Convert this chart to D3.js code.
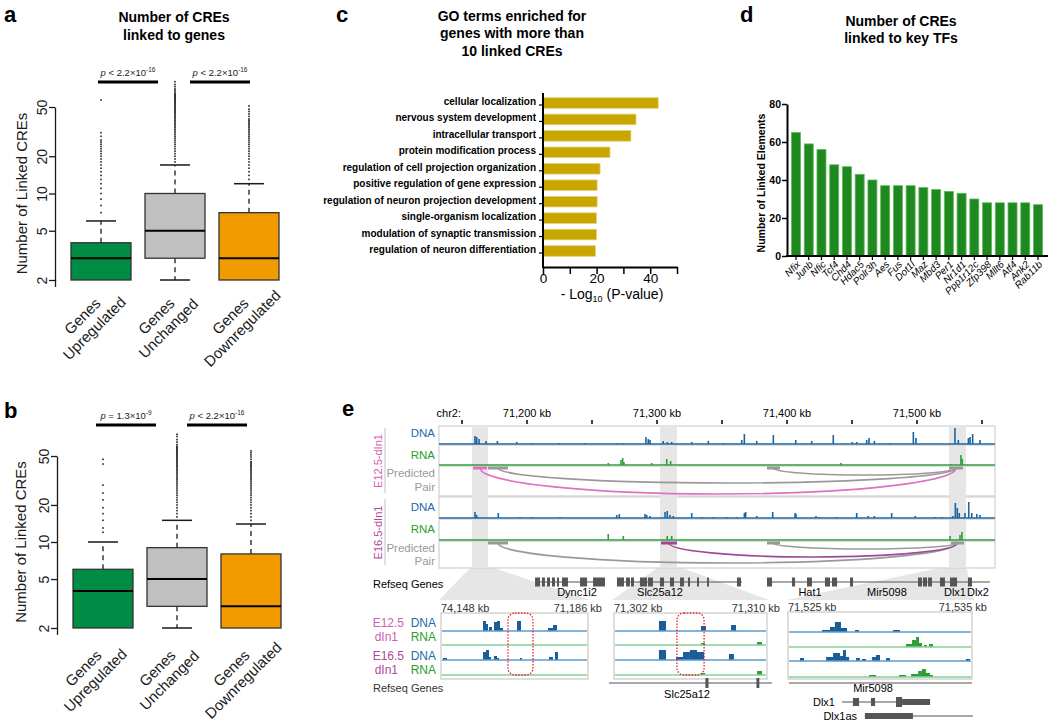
<!DOCTYPE html>
<html><head><meta charset="utf-8">
<script src="https://cdn.jsdelivr.net/npm/d3@7/dist/d3.min.js"></script>
<style>html,body{margin:0;padding:0;background:#fff;} text{font-family:Arial,"Liberation Sans",Helvetica,sans-serif;}</style>
</head><body>
<script>
// ===================== DATA =====================
// Panels a & b (box plots, log scale)
const boxCategories = [["Genes","Upregulated"],["Genes","Unchanged"],["Genes","Downregulated"]];
const boxColors = ["#008C44","#C0C0C0","#F29B00"];
const yTicksBox = [2,5,10,20,50];
const statsA = [
  {lo:2,q1:2,med:3,q3:4,hi:6},
  {lo:2,q1:3,med:5,q3:10,hi:17},
  {lo:2,q1:2,med:3,q3:7,hi:12}];
const outliersA = [
  [7,8,9,10,11,12,13,14,15,16,17,18,19,20,21,22,23,24,25,26,27,29,31,57],
  [18,19,20,21,22,23,24,25,26,27,28,29,30,31,32,33,34,35,36,37,38,39,40,41,42,43,44,45,46,47,48,49,50,51,52,53,54,55,56,57,58,59,60,61,62,63,64,66,68,70,73,76,80],
  [13,14,15,16,17,18,19,20,21,22,23,24,25,26,27,28,29,30,31,32,33,34,35,36,37,38,39,40,42,44,46,48,51]];
const pLabelsA = [{op:"<",mant:"2.2",exp:"-16"},{op:"<",mant:"2.2",exp:"-16"}];
const statsB = [
  {lo:2,q1:2,med:4,q3:6,hi:10},
  {lo:2,q1:3,med:5,q3:9,hi:15},
  {lo:2,q1:2,med:3,q3:8,hi:14}];
const outliersB = [
  [12,13,15,17,19,22,25,29,43,47],
  [16,17,18,19,20,21,22,23,24,25,26,27,28,29,30,31,32,33,34,35,36,37,38,39,40,41,42,43,44,45,46,47,48,49,50,51,52,53,54,55,56,57,58,59,60,62,65,68,72,75],
  [15,16,17,18,19,20,21,22,23,24,25,26,27,28,29,30,31,32,33,34,35,36,37,38,39,40,41,42,43,44,45,47,49,51,53,55]];
const pLabelsB = [{op:"=",mant:"1.3",exp:"-9"},{op:"<",mant:"2.2",exp:"-16"}];

// Panel c (GO terms)
const goTerms = ["cellular localization","nervous system development","intracellular transport","protein modification process","regulation of cell projection organization","positive regulation of gene expression","regulation of neuron projection development","single-organism localization","modulation of synaptic transmission","regulation of neuron differentiation"];
const goValues = [43,34.7,32.8,25,21.3,20.2,20.2,20,20,19.6];
const goTicks = [0,10,20,30,40,50];

// Panel d (key TFs)
const tfNames = ["Nfix","Junb","Nfic","Tcf4","Chd4","Hdac5","Polr3h","Aes","Fus","Dot1l","Maz","Mbd3","Per1","Nr1d1","Ppp1r12c","Zfp398","Mllt6","Atf4","Ank2","Rab11b"];
const tfValues = [65,59,56,48,47,43,40,37,37,37,36,35,34,33,30,28,28,28,28,27];
const tfTicks = [0,20,40,60,80];

// Panel e (genome browser, kb)
const rulerTicks = [71150,71200,71250,71300,71350,71400,71450,71500,71550];
const rulerLabels = [71200,71300,71400,71500];
const highlightsKb = [[71157.7,71170],[71302.3,71315.4],[71524.6,71537.7]];
const dnaE12 = [[71160.0,8],[71161.3,7],[71163.1,5],[71168.5,3],[71177.2,3],[71192.1,2],[71203.6,1],[71224.8,1],[71244.6,1],[71269.5,1],[71273.6,1],[71291.5,7],[71293.3,5],[71294.6,4],[71304.8,3],[71307.9,2],[71311.3,2],[71326.7,2],[71339.5,3],[71351.0,1],[71365.2,4],[71367.2,10],[71376.7,3],[71389.5,9],[71406.7,4],[71419.0,3],[71435.6,9],[71450.2,2],[71453.6,2],[71461.3,4],[71463.1,6],[71467.2,3],[71479.2,1],[71497.2,12],[71499.2,6],[71529.2,16],[71531.8,4],[71539.5,6],[71540.8,7],[71542.8,10],[71548.5,4]];
const dnaE16 = [[71160.0,6],[71161.3,3],[71177.9,5],[71194.6,1],[71203.6,1],[71225.4,1],[71269.0,3],[71271.0,4],[71290.8,4],[71292.1,3],[71294.6,2],[71306.2,6],[71307.9,7],[71310.0,3],[71312.5,2],[71326.7,5],[71334.4,1],[71343.3,1],[71353.6,1],[71361.3,1],[71367.2,5],[71368.2,6],[71376.7,2],[71389.0,6],[71406.2,5],[71406.9,4],[71422.3,2],[71424.8,1],[71438.2,1],[71453.6,5],[71462.5,2],[71467.2,2],[71480.5,5],[71498.7,2],[71513.8,1],[71519.0,1],[71527.5,2],[71529.5,15],[71531.0,10],[71532.5,5],[71536.9,5],[71539.8,16],[71542.1,5],[71546.0,4],[71548.5,3]];
const rnaE12 = [[71262.5,2],[71272.3,5],[71273.6,7],[71274.6,3],[71295.9,2],[71307.5,6],[71310.5,4],[71441.5,2],[71525.9,1],[71533.8,10],[71534.8,6]];
const rnaE16 = [[71262.5,6],[71274.1,4],[71307.9,4],[71311.3,4],[71525.4,4],[71533.1,5],[71534.6,8]];
const anchorsE12 = [[71158.5,71169.2,"pink"],[71170,71185.4,"gray"],[71384.6,71394.6,"gray"],[71524.6,71535.4,"gray"]];
const linksE12 = [[71163.8,71530,"pink",26],[71177.7,71530,"gray",15],[71389.2,71530,"gray",7]];
const anchorsE16 = [[71170,71185.4,"gray"],[71303.1,71315.4,"purple"],[71384.6,71394.6,"gray"],[71526.2,71536.2,"gray"]];
const linksE16 = [[71177.7,71530.8,"gray",20],[71309.2,71530.8,"purple",14],[71389.2,71530.8,"gray",6]];
const refGenes = [
  {start:71206.2,end:71260.0,exons:[[71206.2,71210.0],[71211.5,71213.8],[71215.4,71217.7],[71219.2,71221.5],[71223.1,71224.6],[71226.9,71231.5],[71240.8,71246.2],[71250.8,71260.0]]},
  {start:71269.2,end:71365.4,exons:[[71269.2,71274.6],[71276.2,71279.2],[71280,71282.3],[71286.9,71292.3],[71293.1,71296.9],[71302.3,71305.4],[71310,71313.1],[71317.7,71320.8],[71323.8,71325.4],[71330.8,71332.3],[71338.5,71340],[71361.5,71364.6]]},
  {start:71384.6,end:71556.2,exons:[[71384.6,71388.5],[71403.8,71406.2],[71415.4,71419.2],[71429.2,71433.1],[71434.6,71438.5],[71448.5,71450.8],[71500.8,71503.8],[71504.6,71507.7],[71508.5,71511.5],[71517.7,71521.5],[71525.4,71530.8],[71539.2,71542.3]]}];
const refGeneLabels = [["Dync1i2",71238.5],["Slc25a12",71302.3],["Hat1",71417.7],["Mir5098",71476.9],["Dlx1",71529.2],["Dlx2",71546.9]];
// Insets: [startKb,endKb,height]
const inset1Domain = [71148,71186];
const inset1DNA12 = [[71158.86,71159.63,10],[71159.63,71160.15,7],[71160.41,71161.18,4],[71161.7,71162.48,9],[71162.48,71163.25,10],[71163.25,71164.03,3],[71167.65,71168.68,10],[71175.66,71176.95,3],[71176.95,71177.99,6]];
const inset1DNA16 = [[71148.52,71149.55,2],[71158.86,71159.63,8],[71159.63,71160.41,10],[71160.41,71160.93,3],[71161.7,71162.48,4],[71162.48,71162.99,2],[71168.42,71168.94,2],[71175.92,71176.95,3],[71177.47,71178.24,8]];
const inset1Box = [71165.32,71171.78];
const inset2Domain = [71302,71310];
const inset2DNA12 = [[71304.35,71304.72,10],[71306.55,71306.81,5],[71308.12,71308.38,6]];
const inset2RNA12 = [[71306.55,71306.76,2],[71309.48,71309.74,3]];
const inset2DNA16 = [[71304.35,71304.72,10],[71305.24,71305.61,3],[71305.61,71305.97,8],[71305.97,71306.34,10],[71306.34,71306.71,8],[71308.01,71308.27,6]];
const inset2RNA16 = [[71306.55,71306.76,2],[71309.48,71309.74,4]];
const inset2Box = [71305.29,71306.71];
const inset2Gene = {start:71301.74,end:71310.26,exons:[[71306.78,71306.94],[71309.45,71309.6]]};
const inset3Domain = [71525,71535];
const inset3DNA12 = [[71526.85,71527.28,2],[71527.28,71527.55,5],[71527.55,71527.88,10],[71527.88,71528.21,4],[71528.64,71528.86,2],[71530.71,71531.09,2]];
const inset3RNA12 = [[71531.41,71531.74,3],[71531.74,71531.96,7],[71531.96,71532.12,10],[71532.12,71532.28,4],[71532.39,71532.55,2],[71532.66,71532.88,3]];
const inset3DNA16 = [[71525.65,71525.87,3],[71527.07,71527.45,4],[71527.45,71527.83,8],[71527.83,71527.99,5],[71527.99,71528.15,11],[71528.15,71528.32,4],[71528.7,71528.91,3],[71529.02,71529.24,2],[71529.57,71529.78,4],[71529.78,71530.0,6],[71530.33,71530.54,3],[71534.67,71534.89,2]];
const inset3RNA16 = [[71529.4,71529.78,2],[71531.03,71531.41,2],[71531.69,71532.07,3],[71532.07,71532.28,6],[71532.28,71532.5,8],[71532.5,71532.72,4],[71532.72,71532.88,2]];
const inset3Mir = {start:71525.05,end:71535.0};
const inset3Dlx1 = {start:71527.93,end:71532.72,exons:[[71528.53,71528.86,8],[71529.51,71529.73,8],[71530.87,71531.2,10],[71531.2,71532.72,6]]};
const inset3Dlx1as = {start:71529.18,end:71535.05,exons:[[71529.18,71531.79,6]]};

// ===================== DRAW =====================
const svg = d3.select("body").append("svg").attr("width",1050).attr("height",724);
const INK = "#1a1a1a";

function panelLetter(t,x,y){ svg.append("text").attr("x",x).attr("y",y).attr("font-size",22).attr("font-weight","bold").attr("fill","#000").text(t); }

function pText(g, x, y, p){
  const t = g.append("text").attr("x",x).attr("y",y).attr("text-anchor","middle").attr("font-size",9.5).attr("fill","#222");
  t.append("tspan").attr("font-style","italic").text("p");
  t.append("tspan").text(" "+p.op+" "+p.mant+"×10");
  t.append("tspan").attr("font-size",6.5).attr("dy",-4).text(p.exp);
}

function boxPanel(cfg){
  const g = svg.append("g");
  const y = d3.scaleLog().domain([2,50]).range([cfg.yBot, cfg.yTop]);
  const x = d3.scalePoint().domain([0,1,2]).range(cfg.xRange);
  const bw = cfg.boxW;
  const ax = g.append("g").attr("transform",`translate(${cfg.axisX},0)`)
    .call(d3.axisLeft(y).tickValues(yTicksBox).tickFormat(d3.format("d")).tickSize(6).tickSizeOuter(0));
  ax.select(".domain").attr("stroke",INK).attr("stroke-width",1.3);
  ax.selectAll(".tick line").attr("stroke",INK).attr("stroke-width",1.3);
  ax.selectAll(".tick text").attr("x",0).attr("dy",0).attr("text-anchor","middle")
    .attr("transform","translate(-8,0) rotate(-90)").attr("font-size",14).attr("fill",INK);
  g.append("line").attr("x1",cfg.axisX+0.5).attr("x2",cfg.axisX+0.5).attr("y1",cfg.yBot).attr("y2",cfg.yBot+7).attr("stroke",INK).attr("stroke-width",1.3);
  g.append("text").attr("transform",`translate(${cfg.ylabX},${(cfg.yTop+cfg.yBot)/2}) rotate(-90)`)
    .attr("text-anchor","middle").attr("font-size",15).attr("fill",INK).text("Number of Linked CREs");
  cfg.stats.forEach((s,i)=>{
    const cx = x(i);
    g.append("line").attr("x1",cx).attr("x2",cx).attr("y1",y(s.q3)).attr("y2",y(s.hi))
      .attr("stroke",INK).attr("stroke-width",1.3).attr("stroke-dasharray","5,4");
    g.append("line").attr("x1",cx-bw/4).attr("x2",cx+bw/4).attr("y1",y(s.hi)).attr("y2",y(s.hi)).attr("stroke",INK).attr("stroke-width",1.5);
    if(s.lo < s.q1){
      g.append("line").attr("x1",cx).attr("x2",cx).attr("y1",y(s.q1)).attr("y2",y(s.lo))
        .attr("stroke",INK).attr("stroke-width",1.3).attr("stroke-dasharray","5,4");
      g.append("line").attr("x1",cx-bw/4).attr("x2",cx+bw/4).attr("y1",y(s.lo)).attr("y2",y(s.lo)).attr("stroke",INK).attr("stroke-width",1.5);
    }
    g.append("rect").attr("x",cx-bw/2).attr("width",bw).attr("y",y(s.q3)).attr("height",y(s.q1)-y(s.q3))
      .attr("fill",boxColors[i]).attr("stroke","#333").attr("stroke-width",1.3);
    g.append("line").attr("x1",cx-bw/2).attr("x2",cx+bw/2).attr("y1",y(s.med)).attr("y2",y(s.med)).attr("stroke","#000").attr("stroke-width",2);
    g.selectAll(null).data(cfg.outliers[i]).enter().append("rect")
      .attr("x",cx-0.8).attr("y",d=>y(d)-0.8).attr("width",1.6).attr("height",1.6).attr("fill","#222");
    const lab = g.append("text").attr("transform",`translate(${cx+cfg.labDX},${cfg.yBot+cfg.labDY}) rotate(-45)`)
      .attr("text-anchor","middle").attr("font-size",15).attr("fill",INK);
    lab.append("tspan").attr("x",0).attr("dy",0).text(boxCategories[i][0]);
    lab.append("tspan").attr("x",0).attr("dy",17).text(boxCategories[i][1]);
  });
  cfg.sig.forEach((s,k)=>{
    g.append("line").attr("x1",s[0]).attr("x2",s[1]).attr("y1",cfg.sigY).attr("y2",cfg.sigY).attr("stroke","#000").attr("stroke-width",3);
    pText(g,(s[0]+s[1])/2,cfg.sigY-6,cfg.pLabels[k]);
  });
}

// ---- Panel a
panelLetter("a",4,22);
[["Number of CREs",22],["linked to genes",40]].forEach(t=>svg.append("text").attr("x",174).attr("y",t[1]).attr("text-anchor","middle").attr("font-size",14).attr("font-weight","bold").text(t[0]));
boxPanel({yTop:107,yBot:280,axisX:55,xRange:[101,249],boxW:60,ylabX:27,stats:statsA,outliers:outliersA,
  sig:[[98,158],[190,250]],sigY:82,pLabels:pLabelsA,labDX:-15,labDY:40});
// ---- Panel b
panelLetter("b",4,418);
boxPanel({yTop:456,yBot:628,axisX:57,xRange:[103,251],boxW:60,ylabX:26,stats:statsB,outliers:outliersB,
  sig:[[96,156],[187,247]],sigY:425,pLabels:pLabelsB,labDX:-16,labDY:44});

// ---- Panel c
panelLetter("c",336,22);
[["GO terms enriched for",21],["genes with more than",38],["10 linked CREs",56]].forEach(t=>svg.append("text").attr("x",512).attr("y",t[1]).attr("text-anchor","middle").attr("font-size",14).attr("font-weight","bold").text(t[0]));
{
  const g = svg.append("g");
  const x = d3.scaleLinear().domain([0,50]).range([543,677]);
  const y = d3.scalePoint().domain(goTerms).range([103,251]);
  g.selectAll(null).data(goTerms).enter().append("rect")
    .attr("x",x(0)).attr("y",d=>y(d)-5.3).attr("height",10.6).attr("width",(d,i)=>x(goValues[i])-x(0))
    .attr("fill","#C8A600").attr("stroke","#E6D27A").attr("stroke-width",0.8);
  g.selectAll(null).data(goTerms).enter().append("line")
    .attr("x1",539).attr("x2",543).attr("y1",d=>y(d)+2).attr("y2",d=>y(d)+2).attr("stroke","#000").attr("stroke-width",1.2);
  g.selectAll(null).data(goTerms).enter().append("text")
    .attr("x",536).attr("y",d=>y(d)+2).attr("text-anchor","end").attr("font-size",10).attr("font-weight","bold").text(d=>d);
  g.append("line").attr("x1",543).attr("x2",543).attr("y1",93).attr("y2",268).attr("stroke","#000").attr("stroke-width",2);
  const ax = g.append("g").attr("transform","translate(0,267)")
    .call(d3.axisBottom(x).tickValues(goTicks).tickFormat(d=>d%20===0?d:"").tickSize(7).tickSizeOuter(0));
  ax.select(".domain").attr("stroke","#000").attr("stroke-width",2);
  ax.selectAll(".tick line").attr("stroke","#000").attr("stroke-width",1.5);
  ax.selectAll(".tick text").attr("font-size",13.5).attr("fill","#000").attr("y",6).attr("dy","0.71em");
  const tx = g.append("text").attr("x",612).attr("y",299).attr("text-anchor","middle").attr("font-size",14);
  tx.append("tspan").text("- Log");
  tx.append("tspan").attr("font-size",9).attr("dy",3).text("10");
  tx.append("tspan").attr("dy",-3).text(" (P-value)");
}

// ---- Panel d
panelLetter("d",740,22);
[["Number of CREs",26],["linked to key TFs",43]].forEach(t=>svg.append("text").attr("x",901).attr("y",t[1]).attr("text-anchor","middle").attr("font-size",14).attr("font-weight","bold").text(t[0]));
{
  const g = svg.append("g");
  const y = d3.scaleLinear().domain([0,80]).range([256,104]);
  const x = d3.scalePoint().domain(tfNames).range([796,1038]);
  g.selectAll(null).data(tfNames).enter().append("rect")
    .attr("x",d=>x(d)-4.5).attr("width",9).attr("y",(d,i)=>y(tfValues[i])).attr("height",(d,i)=>y(0)-y(tfValues[i]))
    .attr("fill","#1F881F").attr("stroke","#5DBB5D").attr("stroke-width",0.8);
  const ay = g.append("g").attr("transform","translate(787,0)")
    .call(d3.axisLeft(y).tickValues(tfTicks).tickSize(5).tickSizeOuter(0));
  ay.select(".domain").attr("stroke","#000").attr("stroke-width",2);
  ay.selectAll(".tick line").attr("stroke","#000").attr("stroke-width",1.5);
  ay.selectAll(".tick text").attr("font-size",10.5).attr("font-weight","bold").attr("fill","#000").attr("x",-6);
  g.append("line").attr("x1",786).attr("x2",1048).attr("y1",256).attr("y2",256).attr("stroke","#000").attr("stroke-width",2);
  g.selectAll(null).data(tfNames).enter().append("line")
    .attr("x1",d=>x(d)).attr("x2",d=>x(d)).attr("y1",256).attr("y2",260).attr("stroke","#000").attr("stroke-width",1.2);
  g.selectAll(null).data(tfNames).enter().append("text")
    .attr("transform",d=>`translate(${x(d)+5},${265}) rotate(-45)`).attr("text-anchor","end")
    .attr("font-size",10).attr("font-style","italic").text(d=>d);
  g.append("text").attr("transform","translate(765,183) rotate(-90)").attr("text-anchor","middle")
    .attr("font-size",10.5).attr("font-weight","bold").text("Number of Linked Elements");
}

// ---- Panel e
panelLetter("e",342,416);
{
  const g = svg.append("g");
  const xE = d3.scaleLinear().domain([71200,71300]).range([527,657]);
  const ph = d3.scaleLinear().domain([0,20]).range([0,20]);
  const linkDepth = d3.scaleLinear().domain([0,30]).range([0,30]);
  const DNA_C = "#1C64A0", RNA_C = "#2E9E3A";
  const PINK = "#E070C4", PURPLE = "#A3479B", GRAY = "#999";
  const colorOf = c => c==="pink"?PINK:(c==="purple"?PURPLE:GRAY);
  const boxL = 439, boxR = 995;
  const insets = [
    {domain:inset1Domain,x0:441,x1:588,top:613,bottom:679,rows:[631,645,660,675],data:[inset1DNA12,[],inset1DNA16,[]],red:inset1Box,labL:"74,148 kb",labR:"71,186 kb",labRx:602,labY:612},
    {domain:inset2Domain,x0:614,x1:767,top:613,bottom:679,rows:[631,645,660,675],data:[inset2DNA12,inset2RNA12,inset2DNA16,inset2RNA16],red:inset2Box,labL:"71,302 kb",labR:"71,310 kb",labRx:780,labY:612},
    {domain:inset3Domain,x0:788,x1:972,top:612,bottom:679,rows:[632,647,661,677],data:[inset3DNA12,inset3RNA12,inset3DNA16,inset3RNA16],red:null,labL:"71,525 kb",labR:"71,535 kb",labRx:987,labY:611}];

  // zoom trapezoids
  highlightsKb.forEach((h,i)=>{
    const ins = insets[i];
    g.append("polygon").attr("points",[[xE(h[0]),566],[xE(h[1]),566],[ins.x1+2,600],[ins.x0-2,600]].map(p=>p.join(",")).join(" "))
      .attr("fill","#E6E6E6");
  });
  // ruler
  g.append("text").attr("x",461).attr("y",417).attr("text-anchor","end").attr("font-size",11).text("chr2:");
  g.selectAll(null).data(rulerTicks).enter().append("line")
    .attr("x1",d=>xE(d)).attr("x2",d=>xE(d)).attr("y1",420).attr("y2",424).attr("stroke","#000").attr("stroke-width",1.5);
  g.selectAll(null).data(rulerLabels).enter().append("text")
    .attr("x",d=>xE(d)).attr("y",417).attr("text-anchor","middle").attr("font-size",11).text(d=>d3.format(",")(d)+" kb");
  // track boxes
  const groups = [
    {name:"E12.5-dIn1",col:"#D45CB3",top:426,bottom:496,dnaBase:444,rnaBase:465,pairY:468,dna:dnaE12,rna:rnaE12,anchors:anchorsE12,links:linksE12,labY:[437,459,477,491]},
    {name:"E16.5-dIn1",col:"#B04AA0",top:497,bottom:568,dnaBase:518,rnaBase:540,pairY:543,dna:dnaE16,rna:rnaE16,anchors:anchorsE16,links:linksE16,labY:[511,533,552,565]}];
  groups.forEach(gr=>{
    g.append("rect").attr("x",boxL).attr("y",gr.top).attr("width",boxR-boxL).attr("height",gr.bottom-gr.top).attr("fill","#fff").attr("stroke","#D0D0D0").attr("stroke-width",1.2);
  });
  highlightsKb.forEach(h=>{
    g.append("rect").attr("x",xE(h[0])).attr("width",xE(h[1])-xE(h[0])).attr("y",426).attr("height",141).attr("fill","#E6E6E6");
  });
  groups.forEach(gr=>{
    g.append("line").attr("x1",boxL).attr("x2",boxR).attr("y1",gr.dnaBase+1.5).attr("y2",gr.dnaBase+1.5).attr("stroke","#ddd");
    g.append("line").attr("x1",boxL).attr("x2",boxR).attr("y1",gr.rnaBase+1.5).attr("y2",gr.rnaBase+1.5).attr("stroke","#ddd");
    g.selectAll(null).data(gr.dna).enter().append("rect").attr("x",d=>xE(d[0])-0.8).attr("width",1.6)
      .attr("y",d=>gr.dnaBase-ph(d[1])).attr("height",d=>ph(d[1])).attr("fill",DNA_C);
    g.append("line").attr("x1",boxL).attr("x2",boxR).attr("y1",gr.dnaBase).attr("y2",gr.dnaBase).attr("stroke",DNA_C).attr("stroke-width",1.6);
    g.selectAll(null).data(gr.rna).enter().append("rect").attr("x",d=>xE(d[0])-0.8).attr("width",1.6)
      .attr("y",d=>gr.rnaBase-ph(d[1])).attr("height",d=>ph(d[1])).attr("fill",RNA_C);
    g.append("line").attr("x1",boxL).attr("x2",boxR).attr("y1",gr.rnaBase).attr("y2",gr.rnaBase).attr("stroke",RNA_C).attr("stroke-width",1.6);
    gr.links.forEach(l=>{
      const x1 = xE(l[0]), x2 = xE(l[1]);
      g.append("path").attr("d",`M${x1},${gr.pairY} A${(x2-x1)/2},${linkDepth(l[3])} 0 0 0 ${x2},${gr.pairY}`)
        .attr("fill","none").attr("stroke",colorOf(l[2])).attr("stroke-width",1.6);
    });
    gr.anchors.forEach(a=>{
      g.append("line").attr("x1",xE(a[0])).attr("x2",xE(a[1])).attr("y1",gr.pairY).attr("y2",gr.pairY).attr("stroke",colorOf(a[2])).attr("stroke-width",3);
    });
    const lab = [["DNA","#1F6AA8"],["RNA","#2A9D2A"],["Predicted","#999"],["Pair","#999"]];
    lab.forEach((l,k)=>g.append("text").attr("x",435).attr("y",gr.labY[k]).attr("text-anchor","end").attr("font-size",11.5).attr("fill",l[1]).text(l[0]));
    g.append("line").attr("x1",385).attr("x2",385).attr("y1",gr.top+2).attr("y2",gr.bottom-3).attr("stroke","#ccc").attr("stroke-width",1.2);
    g.append("text").attr("transform",`translate(382,${(gr.top+gr.bottom)/2}) rotate(-90)`).attr("text-anchor","middle")
      .attr("font-size",11).attr("fill",gr.col).text(gr.name);
  });
  // Refseq genes (main)
  g.append("text").attr("x",373).attr("y",588).attr("font-size",11).text("Refseq Genes");
  refGenes.forEach(gn=>{
    g.append("line").attr("x1",xE(gn.start)).attr("x2",xE(gn.end)).attr("y1",582).attr("y2",582).attr("stroke","#555").attr("stroke-width",1.2);
    gn.exons.forEach(e=>g.append("rect").attr("x",xE(e[0])).attr("width",Math.max(1.5,xE(e[1])-xE(e[0]))).attr("y",577.5).attr("height",9).attr("fill","#555"));
  });
  refGeneLabels.forEach(l=>g.append("text").attr("x",xE(l[1])).attr("y",596).attr("text-anchor","middle").attr("font-size",11).text(l[0]));

  // Insets
  insets.forEach((ins,i)=>{
    const xs = d3.scaleLinear().domain(ins.domain).range([ins.x0,ins.x1]);
    g.append("rect").attr("x",ins.x0).attr("y",ins.top).attr("width",ins.x1-ins.x0).attr("height",ins.bottom-ins.top)
      .attr("fill","#fff").attr("stroke","#D3D3D3").attr("stroke-width",1.5);
    g.append("text").attr("x",ins.x0).attr("y",ins.labY).attr("font-size",11).attr("fill","#333").text(ins.labL);
    g.append("text").attr("x",ins.labRx).attr("y",ins.labY).attr("text-anchor","end").attr("font-size",11).attr("fill","#333").text(ins.labR);
    ins.rows.forEach((ry,k)=>{
      const isDNA = k%2===0;
      g.selectAll(null).data(ins.data[k]).enter().append("rect")
        .attr("x",d=>xs(d[0])).attr("width",d=>Math.max(1.2,xs(d[1])-xs(d[0])))
        .attr("y",d=>ry-ph(d[2])).attr("height",d=>ph(d[2])).attr("fill",isDNA?"#1B5E96":"#2E9E3A");
      g.append("line").attr("x1",ins.x0+1).attr("x2",ins.x1-1).attr("y1",ry).attr("y2",ry)
        .attr("stroke",isDNA?"#5A9BD0":"#86CF95").attr("stroke-width",1.5);
    });
    if(ins.red){
      g.append("rect").attr("x",xs(ins.red[0])).attr("width",xs(ins.red[1])-xs(ins.red[0])).attr("y",ins.top).attr("height",ins.bottom-ins.top-4)
        .attr("rx",7).attr("fill","none").attr("stroke","#E8202A").attr("stroke-width",1.3).attr("stroke-dasharray","1.5,1.5");
    }
    if(i===1){
      g.append("line").attr("x1",xs(inset2Gene.start)).attr("x2",xs(inset2Gene.end)).attr("y1",683).attr("y2",683).attr("stroke","#555").attr("stroke-width",1.2);
      inset2Gene.exons.forEach(e=>g.append("rect").attr("x",xs(e[0])).attr("width",Math.max(2,xs(e[1])-xs(e[0]))).attr("y",678).attr("height",10).attr("fill","#555"));
      g.append("text").attr("x",xs(71305.82)).attr("y",698).attr("text-anchor","middle").attr("font-size",11).text("Slc25a12");
    }
    if(i===2){
      g.append("line").attr("x1",xs(inset3Mir.start)).attr("x2",xs(inset3Mir.end)).attr("y1",683).attr("y2",683).attr("stroke","#555").attr("stroke-width",1.2);
      g.append("text").attr("x",xs(71529.62)).attr("y",692).attr("text-anchor","middle").attr("font-size",11).text("Mir5098");
      [[inset3Dlx1,702,"Dlx1",835],[inset3Dlx1as,716,"Dlx1as",857]].forEach(t=>{
        const gn=t[0];
        g.append("line").attr("x1",xs(gn.start)).attr("x2",xs(gn.end)).attr("y1",t[1]).attr("y2",t[1]).attr("stroke","#555").attr("stroke-width",1.2);
        gn.exons.forEach(e=>g.append("rect").attr("x",xs(e[0])).attr("width",xs(e[1])-xs(e[0])).attr("y",t[1]-e[2]/2).attr("height",e[2]).attr("fill","#555"));
        g.append("text").attr("x",t[3]).attr("y",t[1]+4).attr("text-anchor","end").attr("font-size",11).text(t[2]);
      });
    }
  });
  // inset row labels
  [["E12.5",404,627,"#D45CB3"],["dIn1",398,641,"#D45CB3"],["E16.5",404,660,"#B04AA0"],["dIn1",398,674,"#B04AA0"],
   ["DNA",436,627,"#1F6AA8"],["RNA",436,641,"#2A9D2A"],["DNA",436,660,"#1F6AA8"],["RNA",436,674,"#2A9D2A"]]
   .forEach(t=>g.append("text").attr("x",t[1]).attr("y",t[2]).attr("text-anchor","end").attr("font-size",12).attr("fill",t[3]).text(t[0]));
  g.append("text").attr("x",373).attr("y",692).attr("font-size",11).attr("fill","#333").text("Refseq Genes");
}
</script>
</body></html>
